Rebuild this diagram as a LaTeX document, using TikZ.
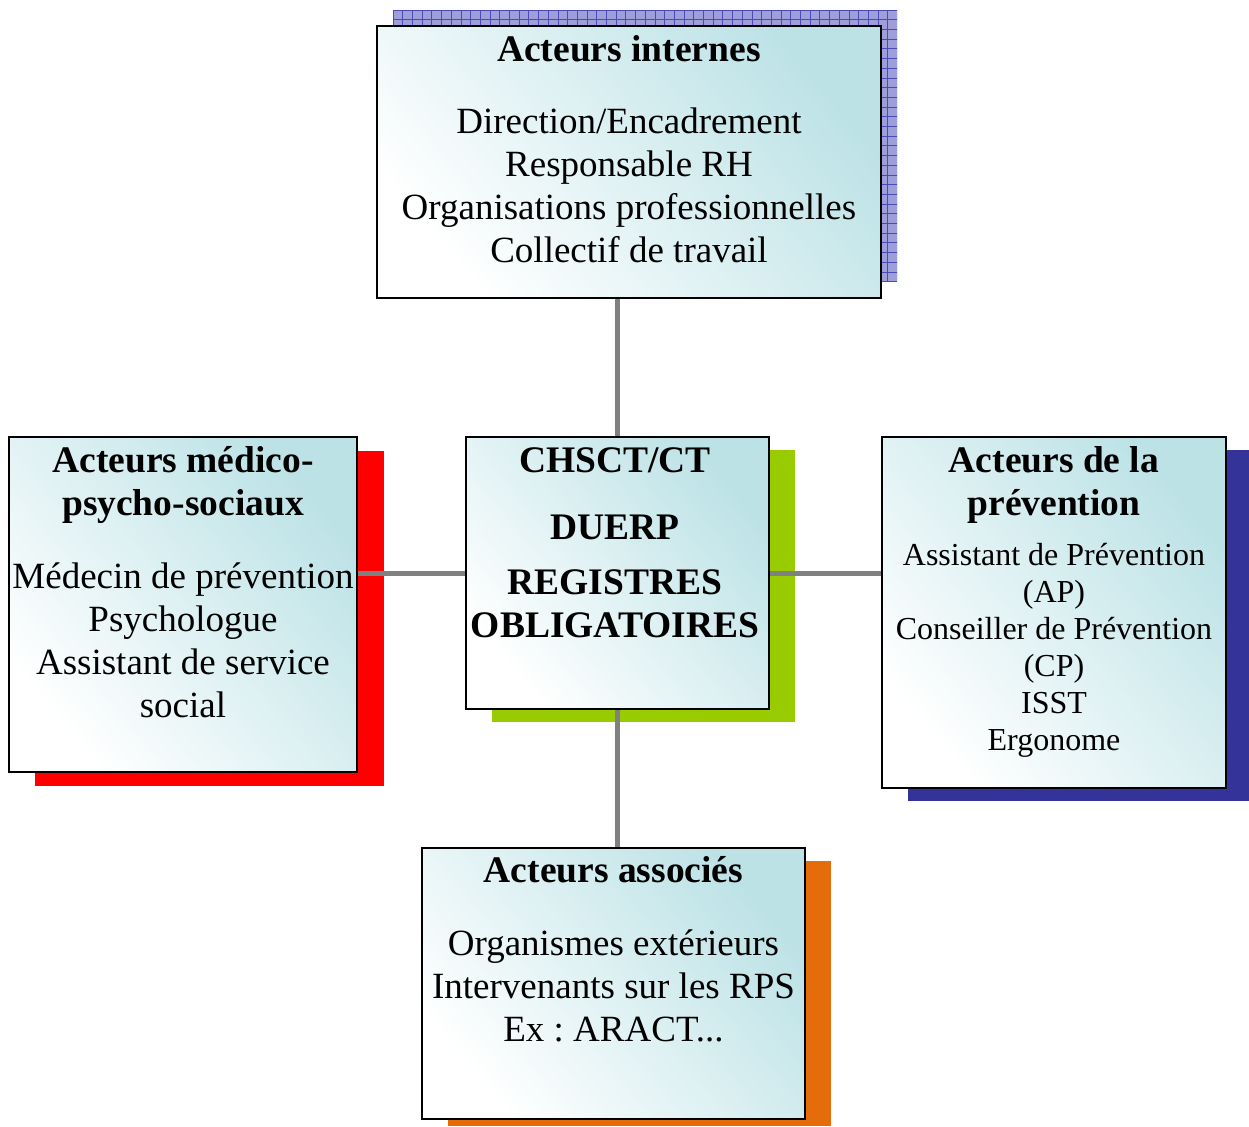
\documentclass[tikz,border=0pt]{standalone}
\usepackage{fontspec}
\setmainfont{Liberation Serif}
\frenchspacing
\definecolor{teal1}{RGB}{188,226,230}
\definecolor{hatchbg}{RGB}{158,158,218}
\definecolor{hatchln}{RGB}{75,75,180}
\definecolor{shred}{RGB}{255,0,0}
\definecolor{shgreen}{RGB}{153,204,0}
\definecolor{shnavy}{RGB}{51,51,153}
\definecolor{shorange}{RGB}{228,108,10}
\definecolor{conn}{RGB}{128,128,128}
\newcommand{\hd}{\fontsize{37.5}{43}\bfseries\selectfont}
\newcommand{\bd}{\fontsize{37}{43}\selectfont}
\begin{document}
\begin{tikzpicture}[x=1pt,y=-1pt,
  box/.style={draw=black,line width=1.8pt,inner sep=0pt,
    bottom color=white,top color=teal1,shading angle=-50},
  txt/.style={inner sep=0pt,anchor=base},
  link/.style={draw=conn,line width=5pt}]
\useasboundingbox (0,0) rectangle (1249,1126);
% shadows
\fill[hatchbg] (393,10) rectangle (897,282);
\begin{scope}
\clip (393,10) rectangle (897,282);
\foreach \i in {0,...,52} {\draw[hatchln,line width=0.7pt] (393+\i*9.7,10) -- (393+\i*9.7,282);}
\foreach \j in {0,...,28} {\draw[hatchln,line width=0.7pt] (393,10+\j*9.7) -- (897,10+\j*9.7);}
\end{scope}
\fill[shred] (35,451) rectangle (384,786);
\fill[shgreen] (492,450) rectangle (795,722);
\fill[shnavy] (908,450) rectangle (1249,801);
\fill[shorange] (448,861) rectangle (831,1126);
% boxes
\node[box,minimum width=504pt,minimum height=272pt] (top) at (629,162) {};
\node[box,minimum width=348pt,minimum height=335pt] (left) at (183,604.5) {};
\node[box,minimum width=303pt,minimum height=272pt] (ctr) at (617.5,573) {};
\node[box,minimum width=344pt,minimum height=351pt] (right) at (1054,612.5) {};
\node[box,minimum width=383pt,minimum height=271pt] (bot) at (613.5,983.5) {};
% connectors
\draw[link] (ctr.north) -- (ctr.north |- top.south);
\draw[link] (ctr.south) -- (ctr.south |- bot.north);
\draw[link] (ctr.west) -- (ctr.west -| left.east);
\draw[link] (ctr.east) -- (ctr.east -| right.west);
% texts
\node[txt] (topH) at (629,62) {\parbox[t]{500pt}{\centering\hd Acteurs internes}};
\node[txt] (topB) at (629,134) {\parbox[t]{500pt}{\centering\bd Direction/Encadrement\\Responsable RH\\Organisations professionnelles\\Collectif de travail}};
\node[txt] (leftH) at (183,472) {\parbox[t]{345pt}{\centering\hd Acteurs médico-\\psycho-sociaux}};
\node[txt] (leftB) at (183,588) {\parbox[t]{348pt}{\centering\fontsize{37}{43.3}\selectfont Médecin de prévention\\Psychologue\\Assistant de service\\social}};
\node[txt] (ctrT) at (615,472) {\parbox[t]{300pt}{\centering\hd CHSCT/CT}};
\node[txt] (ctrB) at (615,539) {\parbox[t]{300pt}{\centering\hd DUERP\\[12pt]REGISTRES\\OBLIGATOIRES}};
\node[txt] (rightH) at (1054,472) {\parbox[t]{340pt}{\centering\hd Acteurs de la\\prévention}};
\node[txt] (rightB) at (1054,565) {\parbox[t]{340pt}{\centering\fontsize{32}{37}\selectfont Assistant de Prévention\\(AP)\\Conseiller de Prévention\\(CP)\\ISST\\Ergonome}};
\node[txt] (botH) at (613.5,882) {\parbox[t]{380pt}{\centering\hd Acteurs associés}};
\node[txt] (botB) at (613.5,955) {\parbox[t]{380pt}{\centering\bd Organismes extérieurs\\Intervenants sur les RPS\\Ex : ARACT...}};
\end{tikzpicture}
\end{document}
